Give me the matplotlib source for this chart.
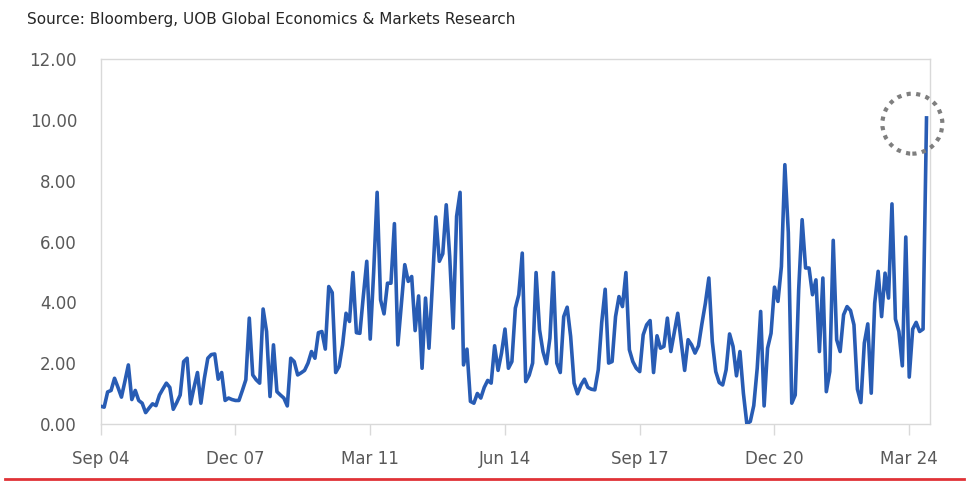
import numpy as np
import matplotlib
matplotlib.use('Agg')
import matplotlib.pyplot as plt
from matplotlib.patches import Ellipse
from matplotlib.lines import Line2D

# monthly values, Sep 2004 .. Aug 2024
values = [
    0.58, 0.55, 1.05, 1.10, 1.50, 1.20, 0.88, 1.40, 1.94, 0.80,
    1.10, 0.77, 0.68, 0.37, 0.52, 0.66, 0.60, 0.95, 1.15, 1.34,
    1.20, 0.48, 0.70, 0.95, 2.05, 2.16, 0.66, 1.20, 1.69, 0.68,
    1.50, 2.16, 2.28, 2.30, 1.47, 1.69, 0.77, 0.85, 0.80, 0.77,
    0.77, 1.10, 1.45, 3.48, 1.61, 1.45, 1.34, 3.78, 3.04, 0.90,
    2.60, 1.06, 0.95, 0.85, 0.59, 2.16, 2.05, 1.61, 1.68, 1.76,
    2.00, 2.38, 2.16, 3.00, 3.04, 2.46, 4.52, 4.32, 1.69, 1.89,
    2.60, 3.64, 3.37, 4.98, 3.00, 2.98, 4.20, 5.35, 2.79, 5.00,
    7.62, 4.08, 3.62, 4.63, 4.63, 6.59, 2.60, 3.90, 5.24, 4.69,
    4.85, 3.07, 4.21, 1.83, 4.14, 2.49, 4.60, 6.81, 5.35, 5.60,
    7.21, 5.51, 3.15, 6.83, 7.62, 1.94, 2.46, 0.74, 0.68, 1.00,
    0.85, 1.20, 1.43, 1.34, 2.57, 1.76, 2.33, 3.12, 1.83, 2.05,
    3.81, 4.25, 5.62, 1.39, 1.60, 2.00, 4.98, 3.10, 2.38, 1.98,
    2.82, 4.98, 2.00, 1.69, 3.53, 3.84, 2.88, 1.34, 0.99, 1.28,
    1.47, 1.20, 1.14, 1.12, 1.78, 3.34, 4.43, 2.00, 2.05, 3.53,
    4.19, 3.86, 4.98, 2.44, 2.05, 1.83, 1.72, 2.93, 3.26, 3.40,
    1.69, 2.90, 2.49, 2.55, 3.48, 2.38, 3.00, 3.64, 2.70, 1.76,
    2.77, 2.60, 2.33, 2.57, 3.30, 3.97, 4.80, 2.71, 1.72, 1.36,
    1.28, 1.78, 2.96, 2.55, 1.58, 2.38, 1.01, 0.00, 0.08, 0.60,
    1.83, 3.70, 0.59, 2.49, 2.98, 4.50, 4.03, 5.18, 8.53, 6.30,
    0.68, 0.95, 4.41, 6.72, 5.13, 5.13, 4.25, 4.74, 2.38, 4.80,
    1.06, 1.72, 6.04, 2.77, 2.38, 3.59, 3.86, 3.73, 3.26, 1.14,
    0.70, 2.66, 3.29, 1.01, 3.97, 5.02, 3.53, 4.96, 4.14, 7.24,
    3.45, 3.04, 1.91, 6.15, 1.54, 3.12, 3.34, 3.04, 3.12, 10.07,
]

tick_pos = [0, 39, 78, 117, 156, 195, 234]
tick_labels = ['Sep 04', 'Dec 07', 'Mar 11', 'Jun 14', 'Sep 17', 'Dec 20', 'Mar 24']
y_ticks = [0, 2, 4, 6, 8, 10, 12]

fig = plt.figure(figsize=(9.74, 5.04), dpi=100)
ax = fig.add_axes([0.1034, 0.159, 0.8514, 0.7234])

x = np.arange(len(values))
ax.plot(x, values, color='#285cb4', lw=2.6, solid_joinstyle='round', zorder=3)

ax.set_xlim(0, 240)
ax.set_ylim(0, 12)
ax.set_yticks(y_ticks)
ax.set_yticklabels([f'{v:.2f}' for v in y_ticks])
ax.set_xticks(tick_pos)
ax.set_xticklabels(tick_labels)

ax.tick_params(axis='y', length=0, pad=17, labelsize=12, labelcolor='#595959')
ax.tick_params(axis='x', length=8, width=1, color='#d9d9d9', pad=11,
               labelsize=12, labelcolor='#595959')
for s in ax.spines.values():
    s.set_color('#d9d9d9')
    s.set_linewidth(1)

# dotted circle round the latest spike
circ = Ellipse((234.9, 9.88), width=60 / 3.456, height=60 / 30.4,
               fill=False, edgecolor='#7f7f7f', lw=3, linestyle=(0, (1, 1.3)),
               clip_on=False, zorder=4)
ax.add_patch(circ)

fig.text(0.028, 0.962, 'Source: Bloomberg, UOB Global Economics & Markets Research',
         fontsize=11, color='#262626', va='center', ha='left')

fig.add_artist(Line2D([0.005, 0.99], [0.05, 0.05], color='#e03237', lw=2))

fig.savefig('out.png', dpi=100)
